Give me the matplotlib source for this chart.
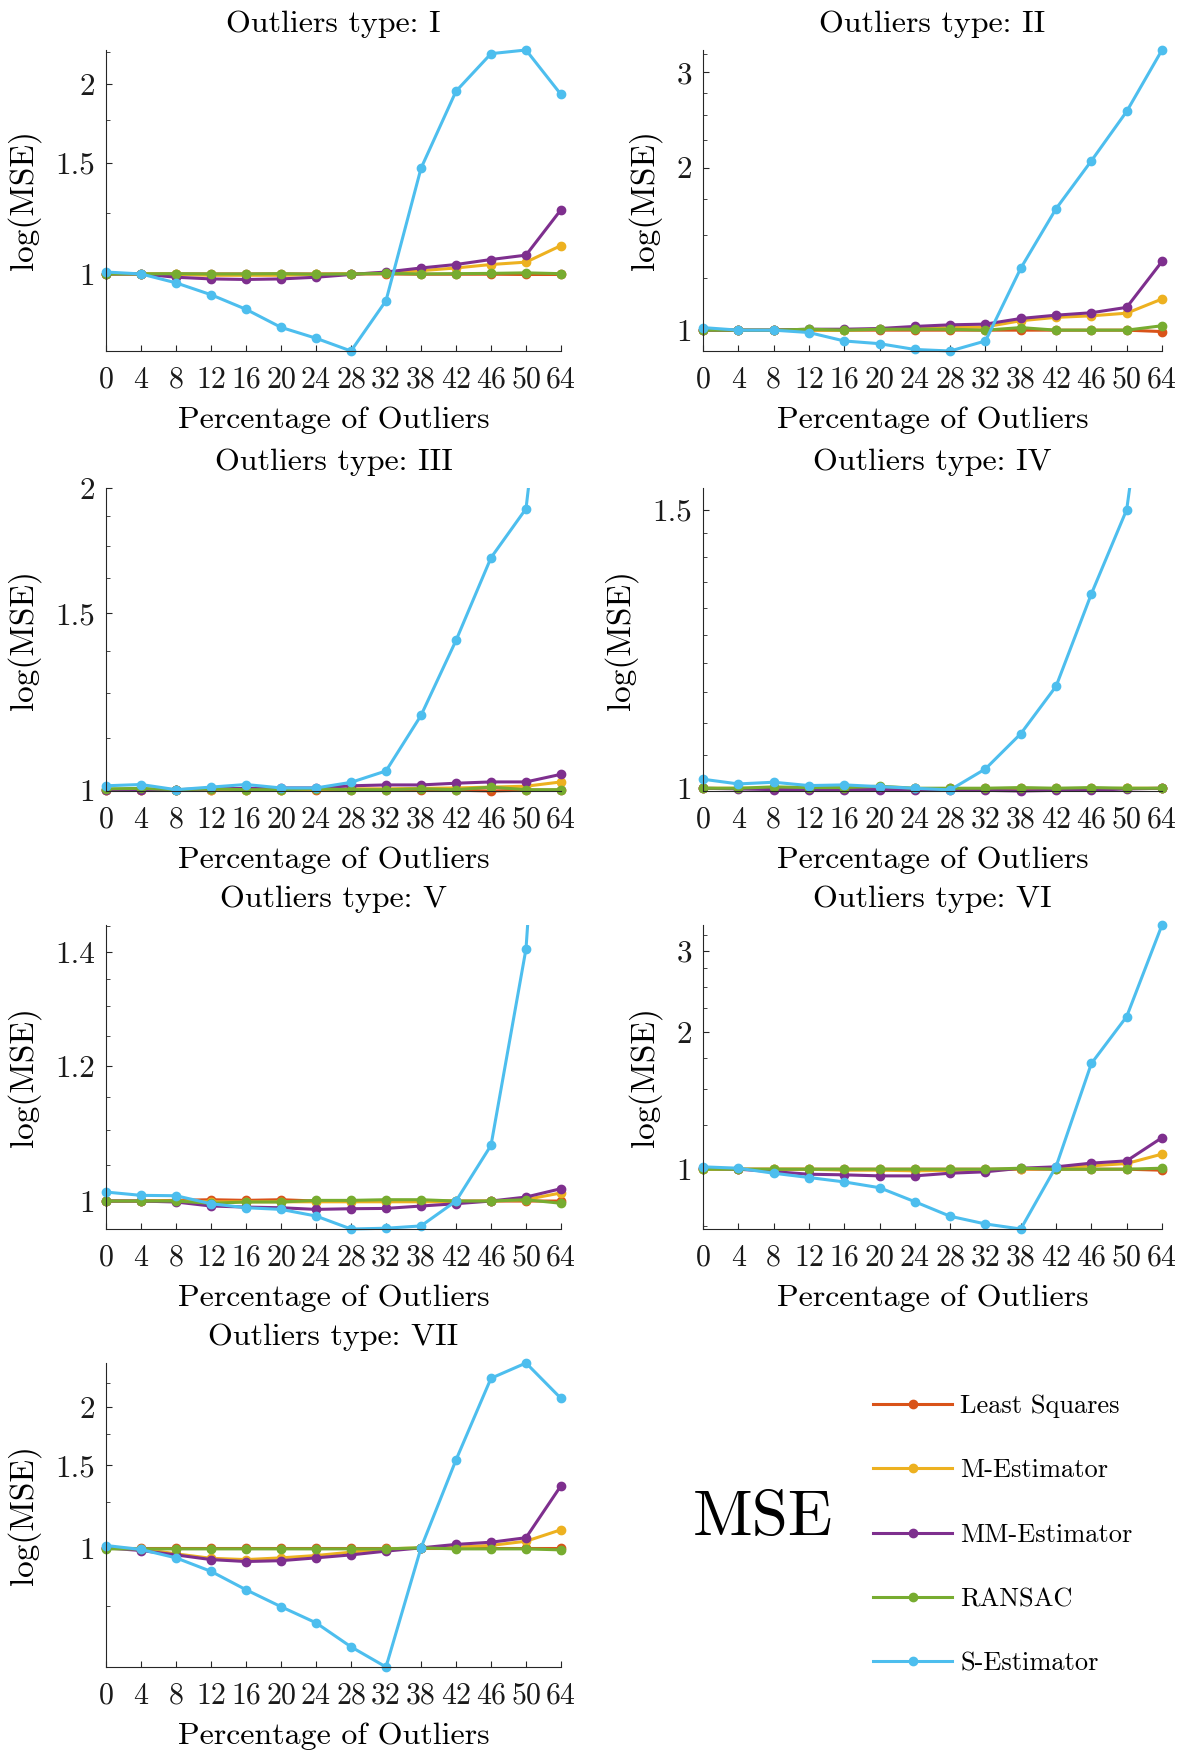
import numpy as np
import matplotlib
matplotlib.use("Agg")
import matplotlib.pyplot as plt
from matplotlib.ticker import NullFormatter
from matplotlib.transforms import Bbox, TransformedBbox
from matplotlib.lines import Line2D

plt.rcParams['font.family'] = 'serif'
plt.rcParams['font.serif'] = ['cmr10']
plt.rcParams['mathtext.fontset'] = 'cm'
plt.rcParams['axes.formatter.use_mathtext'] = True

# percentage of outliers (categorical x axis)
pct = ['0', '4', '8', '12', '16', '20', '24', '28', '32', '38', '42', '46', '50', '64']

methods = ['Least Squares', 'M-Estimator', 'MM-Estimator', 'RANSAC', 'S-Estimator']
colors = ['#D95319', '#EDB120', '#7E2F8E', '#77AC30', '#4DBEEE']

# log(MSE) per outlier type
ls_1 = [1.0, 1.0, 1.0, 1.0, 1.0, 1.0, 1.0, 1.0, 1.0, 0.999, 0.999, 0.999, 0.998, 0.998]
m_1 = [1.0, 1.0, 0.998, 0.995, 0.995, 0.995, 0.998, 1.0, 1.004, 1.012, 1.022, 1.035, 1.044, 1.109]
mm_1 = [1.0, 1.0, 0.988, 0.982, 0.980, 0.982, 0.988, 0.998, 1.007, 1.022, 1.035, 1.054, 1.071, 1.264]
ran_1 = [1.0, 1.0, 1.001, 1.0, 1.0, 1.001, 0.999, 1.0, 1.002, 1.0, 1.001, 1.002, 1.004, 1.001]
s_1 = [1.007, 1.0, 0.968, 0.927, 0.879, 0.823, 0.791, 0.755, 0.907, 1.470, 1.947, 2.233, 2.263, 1.924]

ls_2 = [1.0, 1.0, 1.0, 1.0, 1.0, 1.0, 1.0, 1.0, 1.0, 1.0, 1.0, 1.0, 1.0, 0.994]
m_2 = [1.0, 1.0, 1.0, 1.0, 1.0, 1.004, 1.009, 1.011, 1.014, 1.041, 1.056, 1.063, 1.075, 1.142]
mm_2 = [1.0, 1.0, 1.0, 1.004, 1.004, 1.007, 1.016, 1.023, 1.026, 1.051, 1.066, 1.077, 1.102, 1.340]
ran_2 = [1.0, 1.0, 1.0, 1.004, 1.0, 1.004, 1.004, 1.004, 1.0, 1.011, 1.0, 1.0, 1.0, 1.019]
s_2 = [1.011, 1.0, 1.0, 0.990, 0.955, 0.944, 0.921, 0.915, 0.955, 1.302, 1.678, 2.058, 2.54, 3.30]

ls_3 = [0.999, 0.999, 1.0, 0.999, 0.999, 0.999, 0.999, 0.999, 0.999, 0.999, 0.999, 0.997, 0.999, 0.999]
m_3 = [1.0, 1.0, 1.0, 1.0, 1.0, 1.0, 1.001, 1.002, 1.002, 1.003, 1.004, 1.006, 1.008, 1.018]
mm_3 = [1.0, 1.0, 1.0, 1.002, 1.003, 1.004, 1.004, 1.009, 1.011, 1.011, 1.015, 1.018, 1.018, 1.036]
ran_3 = [1.002, 1.003, 1.0, 1.002, 1.0, 1.0, 1.002, 1.0, 1.0, 1.002, 1.0, 1.006, 1.0, 1.0]
s_3 = [1.009, 1.012, 1.0, 1.006, 1.012, 1.004, 1.004, 1.017, 1.044, 1.186, 1.409, 1.704, 1.907, 3.8]

ls_4 = [1.0, 1.0, 1.0, 1.0, 1.0, 1.0, 1.0, 1.0, 1.0, 1.0, 1.0, 1.0, 1.0, 1.0]
m_4 = [1.0, 1.0, 1.0, 0.999, 0.999, 0.999, 0.999, 0.999, 0.999, 0.999, 0.999, 0.999, 1.0, 1.0]
mm_4 = [1.0, 0.999, 0.998, 0.998, 0.998, 0.998, 0.998, 0.997, 0.997, 0.996, 0.997, 0.997, 0.999, 1.0]
ran_4 = [1.0, 1.0, 1.002, 1.001, 1.001, 1.003, 1.0, 1.0, 1.0, 1.001, 1.0, 1.001, 1.0, 1.0]
s_4 = [1.0132, 1.0063, 1.0088, 1.0039, 1.0049, 1.0024, 1.0, 0.9976, 1.0286, 1.0826, 1.160, 1.327, 1.50, 2.18]

ls_5 = [1.0, 1.0, 1.0009, 1.0018, 1.0009, 1.0018, 1.0, 1.0, 1.0, 1.0, 1.0, 1.0, 1.0, 1.0]
m_5 = [1.0, 1.0, 1.0, 0.999, 0.999, 0.999, 0.999, 0.999, 0.999, 0.999, 0.999, 1.0, 1.002, 1.011]
mm_5 = [1.0, 1.0, 0.9987, 0.9933, 0.9919, 0.991, 0.9888, 0.9897, 0.9901, 0.9933, 0.9964, 1.0, 1.0054, 1.0168]
ran_5 = [1.0, 1.0, 1.0, 0.997, 0.9987, 0.9987, 1.0009, 1.0009, 1.0018, 1.0018, 1.0, 1.0, 1.0018, 0.997]
s_5 = [1.0122, 1.0077, 1.0072, 0.9964, 0.991, 0.9888, 0.980, 0.963, 0.964, 0.967, 1.0, 1.078, 1.405, 2.8]

ls_6 = [1.0, 1.0, 1.0, 1.0, 1.0, 1.0, 1.0, 1.0, 1.0, 1.0, 1.0, 1.0, 1.0, 0.995]
m_6 = [1.0, 1.0, 1.0, 1.0, 0.995, 0.995, 0.992, 0.994, 0.996, 1.0, 1.005, 1.017, 1.029, 1.079]
mm_6 = [1.005, 1.0, 0.988, 0.975, 0.972, 0.967, 0.967, 0.980, 0.987, 1.005, 1.012, 1.031, 1.043, 1.172]
ran_6 = [1.0, 1.0, 1.0, 1.0, 1.0, 1.0, 1.0, 1.0, 1.0, 1.005, 1.0, 1.0, 1.0, 1.005]
s_6 = [1.012, 1.005, 0.980, 0.959, 0.938, 0.911, 0.849, 0.789, 0.759, 0.740, 1.0136, 1.703, 2.157, 3.42]

ls_7 = [1.0, 1.0, 1.0, 1.0, 1.0, 1.0, 1.0, 1.0, 1.0, 1.0, 1.0, 1.0, 1.0, 1.0]
m_7 = [1.0, 0.995, 0.971, 0.950, 0.944, 0.952, 0.963, 0.979, 0.995, 1.0, 1.003, 1.012, 1.033, 1.093]
mm_7 = [1.0, 0.987, 0.966, 0.944, 0.935, 0.939, 0.952, 0.966, 0.984, 1.0, 1.017, 1.028, 1.051, 1.357]
ran_7 = [0.995, 0.995, 0.995, 0.995, 0.995, 0.995, 0.995, 0.995, 0.995, 1.0, 0.995, 0.995, 0.995, 0.99]
s_7 = [1.0116, 0.992, 0.952, 0.891, 0.814, 0.749, 0.692, 0.615, 0.557, 1.0, 1.540, 2.300, 2.479, 2.083]

types = ['I', 'II', 'III', 'IV', 'V', 'VI', 'VII']
series = [
    [ls_1, m_1, mm_1, ran_1, s_1],
    [ls_2, m_2, mm_2, ran_2, s_2],
    [ls_3, m_3, mm_3, ran_3, s_3],
    [ls_4, m_4, mm_4, ran_4, s_4],
    [ls_5, m_5, mm_5, ran_5, s_5],
    [ls_6, m_6, mm_6, ran_6, s_6],
    [ls_7, m_7, mm_7, ran_7, s_7],
]
# upper y limit (None = tight to data)
ytop = [None, None, 2.0, 1.548, 1.451, None, None]
major = [[1, 1.5, 2], [1, 2, 3], [1, 1.5, 2], [1, 1.5], [1, 1.2, 1.4], [1, 2, 3], [1, 1.5, 2]]
major_lbl = [['1', '1.5', '2'], ['1', '2', '3'], ['1', '1.5', '2'], ['1', '1.5'],
             ['1', '1.2', '1.4'], ['1', '2', '3'], ['1', '1.5', '2']]
minor_step = [0.25, 0.25, 0.125, 0.05, 0.05, 0.25, 0.25]

W, H = 1184, 1751
fig = plt.figure(figsize=(W / 100, H / 100), dpi=100)

cols = [(106, 455), (703, 459)]
rows = [(50, 351), (488, 791), (925, 1229), (1363, 1667)]

axc = '#262626'
x = np.arange(len(pct))

for i in range(7):
    r, c = divmod(i, 2)
    left, width = cols[c]
    top, bottom = rows[r]
    ax = fig.add_axes([left / W, 1 - bottom / H, width / W, (bottom - top) / H])

    data = series[i]
    lo = min(min(d) for d in data)
    hi = max(max(d) for d in data) if ytop[i] is None else ytop[i]

    clip_top = 1.05 if ytop[i] is None else 1.0
    clip = TransformedBbox(Bbox.from_extents(-0.05, -0.05, 1.05, clip_top), ax.transAxes)
    for vals, col in zip(data, colors):
        ln, = ax.plot(x, vals, '-o', color=col, lw=2.2, ms=6, clip_on=True)
        ln.set_clip_box(clip)

    ax.set_yscale('log')
    ax.set_ylim(lo, hi)
    ax.set_xlim(0, 13)

    ax.set_xticks(x, pct)
    ax.set_yticks(major[i], major_lbl[i])
    st = minor_step[i]
    mt = np.arange(0.5, 4.0 + st / 2, st)
    mt = [t for t in mt if lo <= t <= hi and not any(abs(t - m) < 1e-9 for m in major[i])]
    ax.set_yticks(mt, minor=True)
    ax.yaxis.set_minor_formatter(NullFormatter())

    for s in ['top', 'right']:
        ax.spines[s].set_visible(False)
    for s in ['left', 'bottom']:
        ax.spines[s].set_color(axc)
        ax.spines[s].set_linewidth(0.8)
    ax.tick_params(axis='both', which='both', direction='in', color=axc, labelcolor='#1a1a1a')
    ax.tick_params(axis='x', which='major', length=4, pad=11, labelsize=21.5)
    ax.tick_params(axis='y', which='major', length=4, pad=8, labelsize=22.5)
    ax.tick_params(axis='y', which='minor', length=3)

    ax.set_title('Outliers type: ' + types[i], fontsize=23, pad=13)
    ax.set_xlabel('Percentage of Outliers', fontsize=23, labelpad=9)
    ax.set_ylabel('log(MSE)', fontsize=24, labelpad=10)

# legend and label in the empty eighth cell
handles = [Line2D([], [], color=c, lw=2.2, marker='o', ms=6) for c in colors]
fig.legend(handles, methods, loc='center left', bbox_to_anchor=(873 / W, 1 - 1535 / H),
           frameon=False, fontsize=19, handlelength=3.0, handletextpad=0.3,
           labelspacing=1.54, borderpad=0, borderaxespad=0)
fig.text(763 / W, 1 - 1519 / H, 'MSE', fontsize=47, ha='center', va='center')

fig.savefig('out.png', dpi=100)
